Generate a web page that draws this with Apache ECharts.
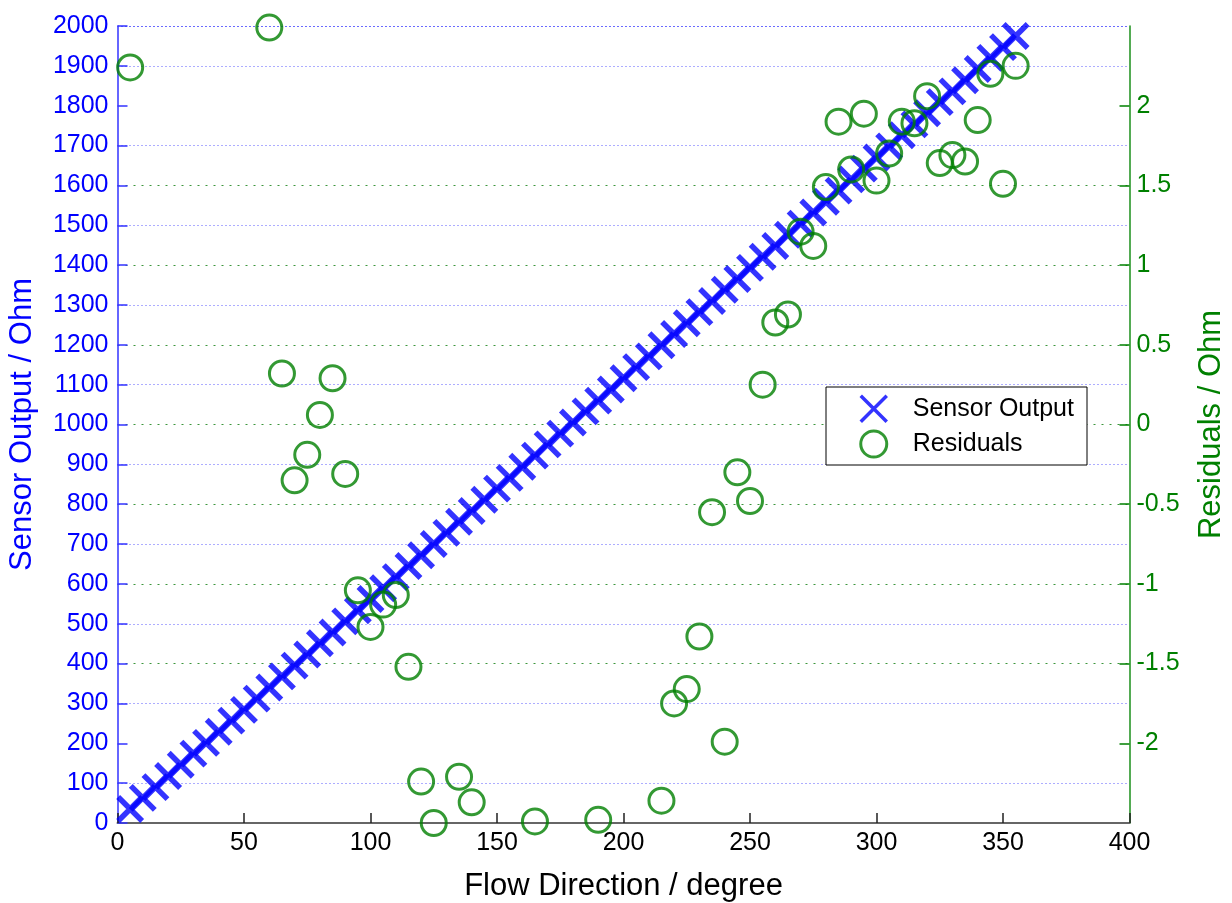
<!DOCTYPE html>
<html>
<head>
<meta charset="utf-8">
<title>Sensor Output / Residuals</title>
<script src="https://cdn.jsdelivr.net/npm/echarts@6/dist/echarts.min.js"></script>
<style>
    html, body { margin: 0; padding: 0; background: #fff; }
    #chart { width: 1232px; height: 903px; }
</style>
</head>
<body>
<div id="chart"></div>
<script>
// flow direction of the sensor samples (degree)
var sensorDeg = [5, 10, 15, 20, 25, 30, 35, 40, 45, 50, 55, 60, 65, 70, 75, 80, 85, 90, 95, 100,
    105, 110, 115, 120, 125, 130, 135, 140, 145, 150, 155, 160, 165, 170, 175, 180, 185, 190, 195, 200,
    205, 210, 215, 220, 225, 230, 235, 240, 245, 250, 255, 260, 265, 270, 275, 280, 285, 290, 295, 300,
    305, 310, 315, 320, 325, 330, 335, 340, 345, 350, 355];

// sensor output (Ohm)
var sensorOutput = [35, 63, 90, 118, 146, 174, 201, 229, 257, 284, 312, 340, 368, 395, 423, 451, 478, 506, 534, 562,
    589, 617, 645, 672, 700, 728, 756, 783, 811, 839, 866, 894, 922, 950, 977, 1005, 1033, 1060, 1088, 1116,
    1144, 1171, 1199, 1227, 1254, 1282, 1310, 1338, 1365, 1393, 1421, 1448, 1476, 1504, 1532, 1559, 1587, 1615, 1642, 1670,
    1698, 1726, 1753, 1781, 1809, 1836, 1864, 1892, 1920, 1947, 1975];

// residuals that fall inside the plotted range
var residualDeg = [5, 60, 65, 70, 75, 80, 85, 90, 95, 100, 105, 110, 115, 120, 125, 135, 140, 165, 190, 215,
    220, 225, 230, 235, 240, 245, 250, 255, 260, 265, 270, 275, 280, 285, 290, 295, 300, 305, 310, 315,
    320, 325, 330, 335, 340, 345, 350, 355];
var residuals = [2.24, 2.49, 0.32, -0.35, -0.19, 0.06, 0.29, -0.31, -1.04, -1.27, -1.13, -1.07, -1.52, -2.24, -2.50, -2.21, -2.37, -2.49, -2.48, -2.36,
    -1.75, -1.66, -1.33, -0.55, -1.99, -0.30, -0.48, 0.25, 0.64, 0.69, 1.21, 1.12, 1.49, 1.90, 1.60, 1.95, 1.53, 1.70, 1.90, 1.89,
    2.06, 1.64, 1.69, 1.65, 1.91, 2.20, 1.51, 2.25];

// tick values of the residual axis
var residualTicks = [-2, -1.5, -1, -0.5, 0, 0.5, 1, 1.5, 2];

var FONT = "'Liberation Sans', Arial, Helvetica, sans-serif";
var BLUE = '#0000ff';
var GREEN = '#008000';

var sensorData = sensorDeg.map(function (d, i) { return [d, sensorOutput[i]]; });
var residualData = residualDeg.map(function (d, i) { return [d, residuals[i]]; });

var chart = echarts.init(document.getElementById('chart'));

chart.setOption({
    animation: false,
    backgroundColor: '#fff',
    textStyle: { fontFamily: FONT },
    grid: { left: 117.5, top: 26, right: 102.5, bottom: 80, outerBoundsMode: 'none' },
    xAxis: [{
        type: 'value',
        min: 0, max: 400, interval: 50,
        name: 'Flow Direction / degree',
        nameLocation: 'middle',
        nameGap: 48,
        nameTextStyle: { color: '#000', fontSize: 31, fontFamily: FONT },
        axisLine: { onZero: false, lineStyle: { color: '#666', width: 2 } },
        axisTick: { inside: true, length: 10, lineStyle: { color: '#222', width: 1.5 } },
        axisLabel: { color: '#000', fontSize: 25, margin: 8, fontFamily: FONT },
        splitLine: { show: false }
    }, {
        // top edge: dotted line like the grid
        type: 'value',
        position: 'top',
        min: 0, max: 400,
        axisLine: { onZero: false, lineStyle: { color: '#5a5aff', width: 1, type: [1, 3] } },
        axisTick: { show: false },
        axisLabel: { show: false },
        splitLine: { show: false }
    }],
    yAxis: [{
        type: 'value',
        min: 0, max: 2000, interval: 100,
        position: 'left',
        name: 'Sensor Output / Ohm',
        nameLocation: 'middle',
        nameRotate: 90,
        nameGap: 80,
        nameTextStyle: { color: BLUE, fontSize: 31, fontFamily: FONT },
        axisLine: { show: true, onZero: false, lineStyle: { color: '#3333ff', width: 1.5 } },
        axisTick: { inside: true, length: 10, lineStyle: { color: '#3333ff', width: 1.5 } },
        axisLabel: {
            color: BLUE, fontSize: 25, margin: 9, fontFamily: FONT,
            formatter: function (v) { return String(v); }
        },
        splitLine: {
            show: true,
            lineStyle: { color: ['rgba(0,0,0,0)', '#5a5aff'], width: 1, type: [1, 3] }
        }
    }, {
        type: 'value',
        min: -2.5, max: 2.5, interval: 0.5,
        position: 'right',
        name: 'Residuals / Ohm',
        nameLocation: 'middle',
        nameRotate: 90,
        nameGap: 66,
        nameTextStyle: { color: GREEN, fontSize: 31, fontFamily: FONT },
        axisLine: { show: true, onZero: false, lineStyle: { color: '#1a8f1a', width: 1.5 } },
        axisTick: {
            inside: true, length: 10,
            customValues: residualTicks,
            lineStyle: { color: GREEN, width: 1.5 }
        },
        axisLabel: {
            color: GREEN, fontSize: 25, margin: 7, fontFamily: FONT,
            customValues: residualTicks,
            formatter: function (v) { return String(v); }
        },
        splitLine: {
            show: true,
            showMinLine: false,
            showMaxLine: false,
            lineStyle: { color: '#3c963c', width: 1, type: [2, 6] }
        }
    }],
    legend: {
        orient: 'vertical',
        left: 859,
        top: 394,
        padding: 0,
        itemWidth: 26,
        itemHeight: 26,
        itemGap: 6,
        textStyle: { color: '#000', fontSize: 25, fontFamily: FONT, padding: [0, 0, 0, 21] },
        data: [{
            name: 'Sensor Output',
            itemStyle: { color: 'rgba(0,0,0,0)', borderColor: BLUE, borderWidth: 3.5 }
        }, {
            name: 'Residuals',
            itemStyle: { color: 'rgba(0,0,0,0)', borderColor: GREEN, borderWidth: 3 }
        }]
    },
    graphic: [{
        type: 'rect',
        z: 3,
        shape: { x: 826, y: 387, width: 261, height: 78 },
        style: { fill: '#fff', stroke: '#000', lineWidth: 1 }
    }],
    series: [{
        name: 'Sensor Output',
        type: 'scatter',
        xAxisIndex: 0,
        yAxisIndex: 0,
        clip: false,
        symbol: 'path://M0,0L10,10M10,0L0,10',
        symbolSize: 24,
        itemStyle: { color: 'rgba(0,0,0,0)', borderColor: BLUE, borderWidth: 5.5 },
        data: sensorData
    }, {
        name: 'Residuals',
        type: 'scatter',
        xAxisIndex: 0,
        yAxisIndex: 1,
        clip: false,
        symbol: 'circle',
        symbolSize: 25,
        itemStyle: { color: 'rgba(0,0,0,0)', borderColor: GREEN, borderWidth: 3 },
        data: residualData
    }]
});
</script>
</body>
</html>
